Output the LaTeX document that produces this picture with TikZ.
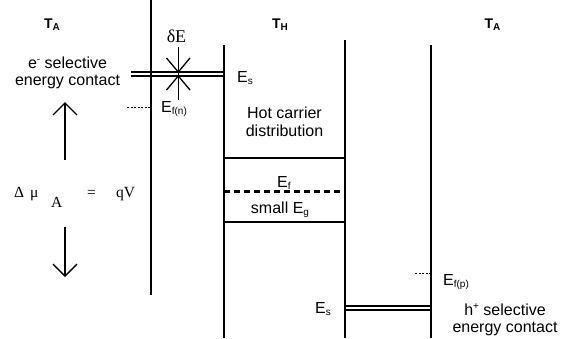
\documentclass[tikz,border=0pt]{standalone}
\usepackage{fontspec}
\setmainfont{Liberation Sans}
\newfontfamily\tms{Liberation Serif}
\usetikzlibrary{arrows.meta}
\newcommand\mysub[1]{\raisebox{-2.5pt}{\fontsize{10}{10}\selectfont #1}}
\newcommand\mysup[1]{\raisebox{5.5pt}{\fontsize{10}{10}\selectfont #1}}
\newcommand\boldsub[1]{\raisebox{-2.5pt}{\fontsize{10}{10}\selectfont\bfseries #1}}
\begin{document}
\begin{tikzpicture}[x=1pt,y=-1pt,
  wall/.style={line width=2pt},
  level/.style={line width=1.5pt},
  dbl/.style={line width=1.2pt},
  thindash/.style={line width=1pt, dash pattern=on 2pt off 1.5pt},
  thickdash/.style={line width=2.2pt, dash pattern=on 6pt off 4pt},
  bigarrow/.style={line width=1.4pt, -{Straight Barb[length=12pt,width=24pt,line width=1.4pt]}},
  lbl/.style={font=\fontsize{16}{18}\selectfont, inner sep=0pt, anchor=base},
  lblw/.style={font=\fontsize{16}{18}\selectfont, inner sep=0pt, anchor=base west},
  temp/.style={font=\fontsize{14}{16}\selectfont\bfseries, inner sep=0pt, anchor=base},
  serif/.style={font=\tms\fontsize{15.5}{18}\selectfont, inner sep=0pt, anchor=base west}]
\useasboundingbox (0,0) rectangle (567,338);

% walls
\coordinate (w1t) at (151,0);    \coordinate (w1b) at (151,295);
\coordinate (w2t) at (223.5,45); \coordinate (w2b) at (223.5,338);
\coordinate (w3t) at (345,40);   \coordinate (w3b) at (345,338);
\coordinate (w4t) at (431,45);   \coordinate (w4b) at (431,338);
\draw[wall] (w1t) -- (w1b);
\draw[wall] (w2t) -- (w2b);
\draw[wall] (w3t) -- (w3b);
\draw[wall] (w4t) -- (w4b);

% top double line (e- selective contact)
\coordinate (d1a) at (131,72);   \coordinate (d1b) at (223.5,72);
\coordinate (d2a) at (131,76);   \coordinate (d2b) at (223.5,76);
\draw[dbl] (d1a) -- (d1b);
\draw[dbl] (d2a) -- (d2b);

% bottom double line (h+ selective contact)
\coordinate (d3a) at (345,306);  \coordinate (d3b) at (431,306);
\coordinate (d4a) at (345,310);  \coordinate (d4b) at (431,310);
\draw[dbl] (d3a) -- (d3b);
\draw[dbl] (d4a) -- (d4b);

% delta E cross
\coordinate (cv1) at (178.3,47); \coordinate (cv2) at (178.3,100);
\coordinate (cu1) at (166.5,58); \coordinate (cu2) at (178.3,72); \coordinate (cu3) at (190,58);
\coordinate (cl1) at (166.5,90); \coordinate (cl2) at (178.3,76); \coordinate (cl3) at (190,90);
\draw[line width=1.3pt] (cv1) -- (cv2);
\draw[line width=1.3pt] (cu1) -- (cu2) -- (cu3);
\draw[line width=1.3pt] (cl1) -- (cl2) -- (cl3);
\node[font=\tms\fontsize{18}{20}\selectfont, inner sep=0pt, anchor=base] (dE) at (176.5,42.5) {δE};

% band levels in hot absorber
\coordinate (l1a) at (223.5,158); \coordinate (l1b) at (345,158);
\coordinate (l2a) at (223.5,222); \coordinate (l2b) at (345,222);
\coordinate (efa) at (223.5,191.5); \coordinate (efb) at (345,191.5);
\draw[level] (l1a) -- (l1b);
\draw[level] (l2a) -- (l2b);
\draw[thickdash] (efa) -- (efb);

% quasi-Fermi levels of contacts
\coordinate (fna) at (127,107); \coordinate (fnb) at (150,107);
\coordinate (fpa) at (415,273); \coordinate (fpb) at (430,273);
\draw[thindash] (fna) -- (fnb);
\draw[thindash] (fpa) -- (fpb);

% arrows for delta mu
\coordinate (au1) at (65,160); \coordinate (au2) at (65,102);
\coordinate (ad1) at (65,227); \coordinate (ad2) at (65,277);
\draw[bigarrow] (au1) -- (au2);
\draw[bigarrow] (ad1) -- (ad2);

% temperatures
\node[temp] (ta1) at (52,28) {T\boldsub{A}};
\node[temp] (th) at (280,28) {T\boldsub{H}};
\node[temp] (ta2) at (492.5,28) {T\boldsub{A}};

% labels
\node[lbl] (esel1) at (67.5,68) {e\mysup{-} selective};
\node[lbl] (esel2) at (67.5,85) {energy contact};
\node[lblw] (es1) at (237,82) {E\mysub{s}};
\node[lblw] (efn) at (161,112) {E\mysub{f(n)}};
\node[lbl] (hc1) at (284.5,118) {Hot carrier};
\node[lbl] (hc2) at (284.5,136) {distribution};
\node[lblw] (ef) at (277,187) {E\mysub{f}};
\node[lbl] (eg) at (280,213) {small E\mysub{g}};
\node[lblw] (efp) at (443,285) {E\mysub{f(p)}};
\node[lbl] (hsel1) at (505,315) {h\mysup{+} selective};
\node[lbl] (hsel2) at (505,332) {energy contact};
\node[lblw] (es2) at (315,313) {E\mysub{s}};

% delta mu = qV
\node[serif] (dl) at (14,197) {Δ};
\node[serif] (mu) at (30,197) {μ};
\node[serif] (mA) at (51,207) {A};
\node[serif] (eq) at (87,197) {=};
\node[serif] (qv) at (116,197) {qV};
\end{tikzpicture}
\end{document}
